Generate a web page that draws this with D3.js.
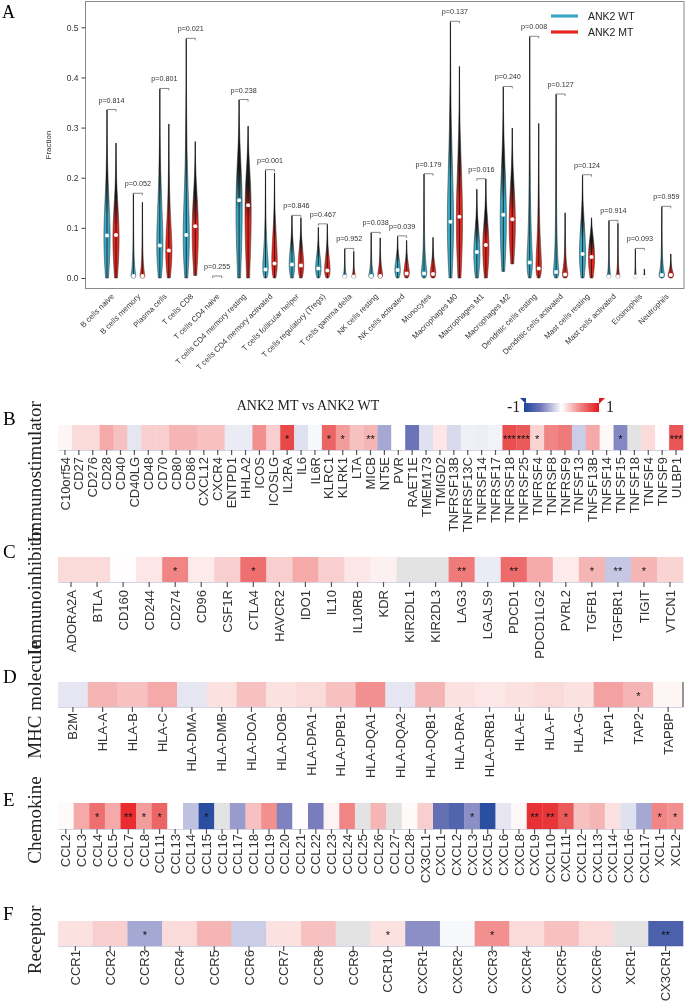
<!DOCTYPE html>
<html>
<head>
<meta charset="utf-8">
<script src="https://cdn.jsdelivr.net/npm/d3@7"></script>
<style>
  body { margin: 0; background: #fff; }
  svg { display: block; will-change: transform; }
</style>
</head>
<body>
<svg id="fig" width="685" height="1002"></svg>
<script>
// ---- panel A data (CIBERSORT fractions) ----
const cellTypes = ["B cells naive","B cells memory","Plasma cells","T cells CD8","T cells CD4 naive",
  "T cells CD4 memory resting","T cells CD4 memory activated","T cells follicular helper",
  "T cells regulatory (Tregs)","T cells gamma delta","NK cells resting","NK cells activated","Monocytes",
  "Macrophages M0","Macrophages M1","Macrophages M2","Dendritic cells resting","Dendritic cells activated",
  "Mast cells resting","Mast cells activated","Eosinophils","Neutrophils"];
const pValues = ["0.814","0.052","0.801","0.021","0.255","0.238","0.001","0.846","0.467","0.952","0.038",
  "0.039","0.179","0.137","0.016","0.240","0.008","0.127","0.124","0.914","0.093","0.959"];

const wtMax  = [0.335,0.168,0.377,0.477,0.003,0.355,0.215,0.124,0.101,0.058,0.090,0.083,0.207,0.511,0.177,0.381,0.481,0.366,0.205,0.114,0.058,0.142];
const wtMed  = [0.084,0.003,0.064,0.085,0.001,0.154,0.016,0.026,0.018,0.002,0.003,0.015,0.008,0.111,0.051,0.125,0.030,0.011,0.047,0.002,0.002,0.005];
const wtBody = [0.200,0.020,0.200,0.220,0.003,0.270,0.080,0.080,0.060,0.010,0.020,0.050,0.040,0.300,0.120,0.270,0.100,0.040,0.140,0.010,0.003,0.020];
const wtMin  = [0,0,0,0,0,0,0,0,0,0,0,0,0,0,0,0.013,0,0,0,0,0,0];
const wtWid  = [0.9,0.7,0.9,0.9,0.4,0.9,0.8,0.8,0.8,0.6,0.7,0.8,0.8,0.9,0.9,0.9,0.8,0.8,0.9,0.6,0.5,0.8];

const mtMax  = [0.269,0.151,0.307,0.272,0.003,0.303,0.209,0.120,0.107,0.053,0.080,0.075,0.081,0.422,0.197,0.299,0.308,0.130,0.120,0.109,0.018,0.048];
const mtMed  = [0.085,0.003,0.054,0.102,0.001,0.144,0.028,0.024,0.014,0.002,0.003,0.008,0.007,0.121,0.065,0.116,0.018,0.006,0.041,0.002,0.001,0.005];
const mtBody = [0.180,0.020,0.150,0.200,0.003,0.250,0.120,0.080,0.060,0.010,0.030,0.040,0.040,0.280,0.140,0.220,0.100,0.030,0.100,0.010,0.003,0.020];
const mtMin  = [0,0,0,0.005,0,0,0,0,0,0,0,0,0,0,0,0.028,0,0,0,0,0,0];
const mtWid  = [0.9,0.7,0.9,0.9,0.4,0.9,0.8,0.8,0.8,0.6,0.7,0.8,0.8,0.9,0.9,0.9,0.8,0.8,0.9,0.6,0.5,0.8];

const yTicks = [0, 0.1, 0.2, 0.3, 0.4, 0.5];

// ---- panels B-F data (correlation, ANK2 MT vs WT) ----
const stimGenes = ["C10orf54","CD27","CD276","CD28","CD40","CD40LG","CD48","CD70","CD80","CD86","CXCL12","CXCR4",
  "ENTPD1","HHLA2","ICOS","ICOSLG","IL2RA","IL6","IL6R","KLRC1","KLRK1","LTA","MICB","NT5E","PVR","RAET1E",
  "TMEM173","TMIGD2","TNFRSF13B","TNFRSF13C","TNFRSF14","TNFRSF17","TNFRSF18","TNFRSF25","TNFRSF4","TNFRSF8",
  "TNFRSF9","TNFSF13","TNFSF13B","TNFSF14","TNFSF15","TNFSF18","TNFSF4","TNFSF9","ULBP1"];
const stimValues = [0.04,0.15,0.15,0.35,0.25,-0.1,0.2,0.2,0.3,0.3,0.25,0.25,-0.08,-0.08,0.45,0.2,0.78,-0.12,
  -0.03,0.65,0.4,0.25,0.3,-0.35,0,-0.58,-0.12,0.1,-0.15,-0.06,-0.07,-0.05,0.75,0.7,0.18,0.5,0.55,-0.2,0.35,
  0.03,-0.48,null,0.15,0.01,0.72];
const stimStars = ["","","","","","","","","","","","","","","","","*","","","*","*","","**","","","",
  "","","","","","","***","***","*","","","","","","*","","","","***"];

const inhibGenes = ["ADORA2A","BTLA","CD160","CD244","CD274","CD96","CSF1R","CTLA4","HAVCR2","IDO1","IL10",
  "IL10RB","KDR","KIR2DL1","KIR2DL3","LAG3","LGALS9","PDCD1","PDCD1LG2","PVRL2","TGFB1","TGFBR1","TIGIT","VTCN1"];
const inhibValues = [0.15,0.15,0.01,0.1,0.5,0.08,0.2,0.6,0.2,0.35,0.2,0.1,0.06,null,null,0.55,-0.08,0.62,0.35,
  0.08,0.3,-0.22,0.3,0.18];
const inhibStars = ["","","","","*","","","*","","","","","","","","**","","**","","","*","**","*",""];

const mhcGenes = ["B2M","HLA-A","HLA-B","HLA-C","HLA-DMA","HLA-DMB","HLA-DOA","HLA-DOB","HLA-DPA1","HLA-DPB1",
  "HLA-DQA1","HLA-DQA2","HLA-DQB1","HLA-DRA","HLA-DRB1","HLA-E","HLA-F","HLA-G","TAP1","TAP2","TAPBP"];
const mhcValues = [-0.1,0.3,0.25,0.35,-0.1,0.12,0.25,0.12,0.15,0.25,0.45,-0.1,0.3,0.12,0.1,0.12,0.15,0.12,0.38,0.3,0.04];
const mhcStars = ["","","","","","","","","","","","","","","","","","","","*",""];

const chemoGenes = ["CCL2","CCL3","CCL4","CCL5","CCL7","CCL8","CCL11","CCL13","CCL14","CCL15","CCL16","CCL17",
  "CCL18","CCL19","CCL20","CCL21","CCL22","CCL23","CCL24","CCL25","CCL26","CCL27","CCL28","CX3CL1","CXCL1",
  "CXCL2","CXCL3","CXCL5","CXCL6","CXCL8","CXCL9","CXCL10","CXCL11","CXCL12","CXCL13","CXCL14","CXCL16",
  "CXCL17","XCL1","XCL2"];
const chemoValues = [0.02,0.35,0.6,0.35,0.9,0.4,0.65,0,-0.25,-0.92,null,-0.4,0.25,0.45,-0.5,0.01,-0.52,0.05,
  0.5,null,0.3,null,0.02,0.2,-0.62,-0.72,-0.45,-0.92,-0.1,0.03,0.88,0.86,0.7,0.25,0.3,0.12,-0.12,-0.35,0.5,0.45];
const chemoStars = ["","","*","","**","*","*","","","*","","","","","","","","","","","","","","","","",
  "*","","","","**","**","*","","","","","","*","*"];

const recGenes = ["CCR1","CCR2","CCR3","CCR4","CCR5","CCR6","CCR7","CCR8","CCR9","CCR10","CXCR1","CXCR2",
  "CXCR3","CXCR4","CXCR5","CXCR6","XCR1","CX3CR1"];
const recValues = [0.12,0.2,-0.35,0.15,0.3,-0.2,0.12,0.25,null,0.12,-0.45,-0.03,0.45,0.15,0.25,0.15,null,-0.75];
const recStars = ["","","*","","","","","","","*","","","*","","","","","**"];

const TEAL = "#3aaac6", RED = "#e5261e";
const svg = d3.select("#fig");
const defs = svg.append("defs");
const serif = "Liberation Serif, Times New Roman, serif";
const sans = "Liberation Sans, Arial, sans-serif";

// ================= PANEL A =================
const frame = {l: 85.5, t: 1.5, r: 684, b: 288.5};
const y = d3.scaleLinear().domain([0, 0.5]).range([278, 27.3]);
const x = d3.scalePoint().domain(cellTypes).range([111.5, 666.3]);
const halfW = 4.6, off = 4.5;

svg.append("text").attr("x", 2).attr("y", 18)
  .attr("font-family", serif).attr("font-size", 18).text("A");

svg.append("rect")
  .attr("x", frame.l).attr("y", frame.t)
  .attr("width", frame.r - frame.l).attr("height", frame.b - frame.t)
  .attr("fill", "none").attr("stroke", "#8a8a8a").attr("stroke-width", 1);

const yAxis = svg.append("g").attr("transform", `translate(${frame.l},0)`)
  .call(d3.axisLeft(y).tickValues(yTicks).tickFormat(d3.format(".1f")).tickSize(4));
yAxis.select(".domain").remove();
yAxis.selectAll("line").attr("stroke", "#444");
yAxis.selectAll("text").attr("font-family", sans)
  .attr("font-size", 8.5).attr("fill", "#333");

svg.append("text").attr("transform", "translate(51,145) rotate(-90)")
  .attr("text-anchor", "middle").attr("font-family", sans)
  .attr("font-size", 8).attr("fill", "#333").text("Fraction");

// gradients: dark toward the thin tail
[["gTeal", TEAL], ["gRed", RED]].forEach(([id, c]) => {
  const g = defs.append("linearGradient").attr("id", id)
    .attr("x1", 0).attr("y1", 0).attr("x2", 0).attr("y2", 1);
  g.append("stop").attr("offset", "0%").attr("stop-color", "#151515");
  g.append("stop").attr("offset", "38%").attr("stop-color", "#1c1c1c");
  g.append("stop").attr("offset", "62%").attr("stop-color", c);
  g.append("stop").attr("offset", "100%").attr("stop-color", c);
});

const area = d3.area()
  .curve(d3.curveBasis)
  .y(d => y(d.v));

function violin(cx, lo, med, body, hi, wid, grad) {
  const knots = [
    {v: lo,  w: 0.35 * wid},
    {v: Math.max(med, lo + 0.0005), w: wid},
    {v: Math.max(body, med + 0.001), w: 0.1 * wid},
    {v: Math.max(hi, body + 0.001), w: 0.02}
  ];
  const g = svg.append("g");
  g.append("path")
    .attr("d", area.x0(d => cx - d.w * halfW).x1(d => cx + d.w * halfW)(knots))
    .attr("fill", `url(#${grad})`).attr("stroke", "#2a2a2a").attr("stroke-width", 0.5);
  g.append("line").attr("x1", cx).attr("x2", cx)
    .attr("y1", y(lo)).attr("y2", y(hi))
    .attr("stroke", "#111").attr("stroke-width", 0.8);
  g.append("circle").attr("cx", cx).attr("cy", y(med) - 0.5).attr("r", 2)
    .attr("fill", "#fff");
}

cellTypes.forEach((c, i) => {
  const cx = x(c);
  violin(cx - off, wtMin[i], wtMed[i], wtBody[i], wtMax[i], wtWid[i], "gTeal");
  violin(cx + off, mtMin[i], mtMed[i], mtBody[i], mtMax[i], mtWid[i], "gRed");
  const top = y(Math.max(wtMax[i], mtMax[i])) - 0.5;
  svg.append("path")
    .attr("d", `M${cx - off},${top + 2}V${top}H${cx + off}V${top + 2}`)
    .attr("fill", "none").attr("stroke", "#555").attr("stroke-width", 0.7);
  svg.append("text").attr("x", cx).attr("y", top - 7)
    .attr("text-anchor", "middle").attr("font-family", sans)
    .attr("font-size", 7.2).attr("fill", "#333").text("p=" + pValues[i]);
  svg.append("text")
    .attr("transform", `translate(${cx + 3},${297}) rotate(-45)`)
    .attr("text-anchor", "end").attr("font-family", sans)
    .attr("font-size", 7.8).attr("fill", "#333").text(c);
});

// legend
[["ANK2 WT", TEAL, 16], ["ANK2 MT", RED, 32]].forEach(([t, c, ly]) => {
  svg.append("line").attr("x1", 551).attr("x2", 578).attr("y1", ly).attr("y2", ly)
    .attr("stroke", c).attr("stroke-width", 3.2);
  svg.append("text").attr("x", 588).attr("y", ly + 4)
    .attr("font-family", sans).attr("font-size", 10.5)
    .attr("fill", "#222").text(t);
});

// ================= PANELS B-F =================
const color = d3.scaleLinear()
  .domain([-1, -0.55, 0, 0.45, 0.8, 1])
  .range(["#1c469b", "#7176b9", "#ffffff", "#f29090", "#e84444", "#e8141b"]);
const NA = "#e3e3e3";
const hx0 = 58, hx1 = 683;

function heat(genes, vals, stars, top, bot, labelTop, letter, letterY, rowLabel, rowY) {
  const hx = d3.scaleBand().domain(genes).range([hx0, hx1]);
  const g = svg.append("g");
  g.selectAll("rect").data(genes).enter().append("rect")
    .attr("x", d => hx(d)).attr("y", top)
    .attr("width", hx.bandwidth() + 0.3).attr("height", bot - top)
    .attr("fill", (d, i) => vals[i] === null ? NA : color(vals[i]));
  g.selectAll("text.star").data(genes).enter().append("text").attr("class", "star")
    .attr("x", d => hx(d) + hx.bandwidth() / 2).attr("y", (top + bot) / 2 + 5)
    .attr("text-anchor", "middle").attr("font-family", sans).attr("font-size", 11)
    .attr("fill", "#111").text((d, i) => stars[i]);
  const ax = g.append("g").attr("transform", `translate(0,${bot})`)
    .call(d3.axisBottom(hx).tickSize(5).tickSizeOuter(0));
  ax.select(".domain").attr("stroke", "#c8c8e0").attr("stroke-width", 0.8);
  ax.selectAll("line").attr("stroke", "#555").attr("stroke-width", 1.2);
  ax.selectAll("text")
    .attr("transform", "rotate(-90)")
    .attr("x", -(labelTop - bot)).attr("y", 0).attr("dy", "0.35em")
    .attr("text-anchor", "end")
    .attr("font-family", sans).attr("font-size", 13).attr("fill", "#333");
  svg.append("text").attr("x", 3).attr("y", letterY)
    .attr("font-family", serif).attr("font-size", 19).text(letter);
  svg.append("text").attr("transform", `translate(41,${rowY}) rotate(-90)`)
    .attr("text-anchor", "middle").attr("font-family", serif).attr("font-size", 19)
    .attr("fill", "#222").text(rowLabel);
}

heat(stimGenes, stimValues, stimStars, 425, 450, 457, "B", 425, "Immunostimulator", 472);
heat(inhibGenes, inhibValues, inhibStars, 557, 582, 590, "C", 558, "Immunoinhibitor", 590);
heat(mhcGenes, mhcValues, mhcStars, 682, 707, 713, "D", 683, "MHC molecule", 700);
heat(chemoGenes, chemoValues, chemoStars, 803, 829, 834, "E", 806, "Chemokine", 820);
heat(recGenes, recValues, recStars, 921, 946, 950, "F", 920, "Receptor", 940);

// right edge line on MHC strip
svg.append("line").attr("x1", 683).attr("x2", 683).attr("y1", 682).attr("y2", 707)
  .attr("stroke", "#333").attr("stroke-width", 1);

// title + colour bar for B
svg.append("text").attr("x", 308).attr("y", 410).attr("text-anchor", "middle")
  .attr("font-family", serif).attr("font-size", 14).attr("fill", "#222")
  .text("ANK2 MT vs ANK2  WT");

const cb = defs.append("linearGradient").attr("id", "cbar");
[-1, -0.55, 0, 0.45, 0.8, 1].forEach(v => {
  cb.append("stop").attr("offset", ((v + 1) / 2 * 100) + "%").attr("stop-color", color(v));
});
svg.append("rect").attr("x", 524).attr("y", 403).attr("width", 75).attr("height", 9)
  .attr("fill", "url(#cbar)");
svg.append("path").attr("d", "M520,398L526,398L526,404Z").attr("fill", color(-1));
svg.append("path").attr("d", "M599,398L605,398L599,404Z").attr("fill", color(1));
svg.append("text").attr("x", 507).attr("y", 412).attr("font-family", serif)
  .attr("font-size", 16).attr("fill", "#222").text("-1");
svg.append("text").attr("x", 606).attr("y", 412).attr("font-family", serif)
  .attr("font-size", 16).attr("fill", "#222").text("1");
</script>
</body>
</html>
